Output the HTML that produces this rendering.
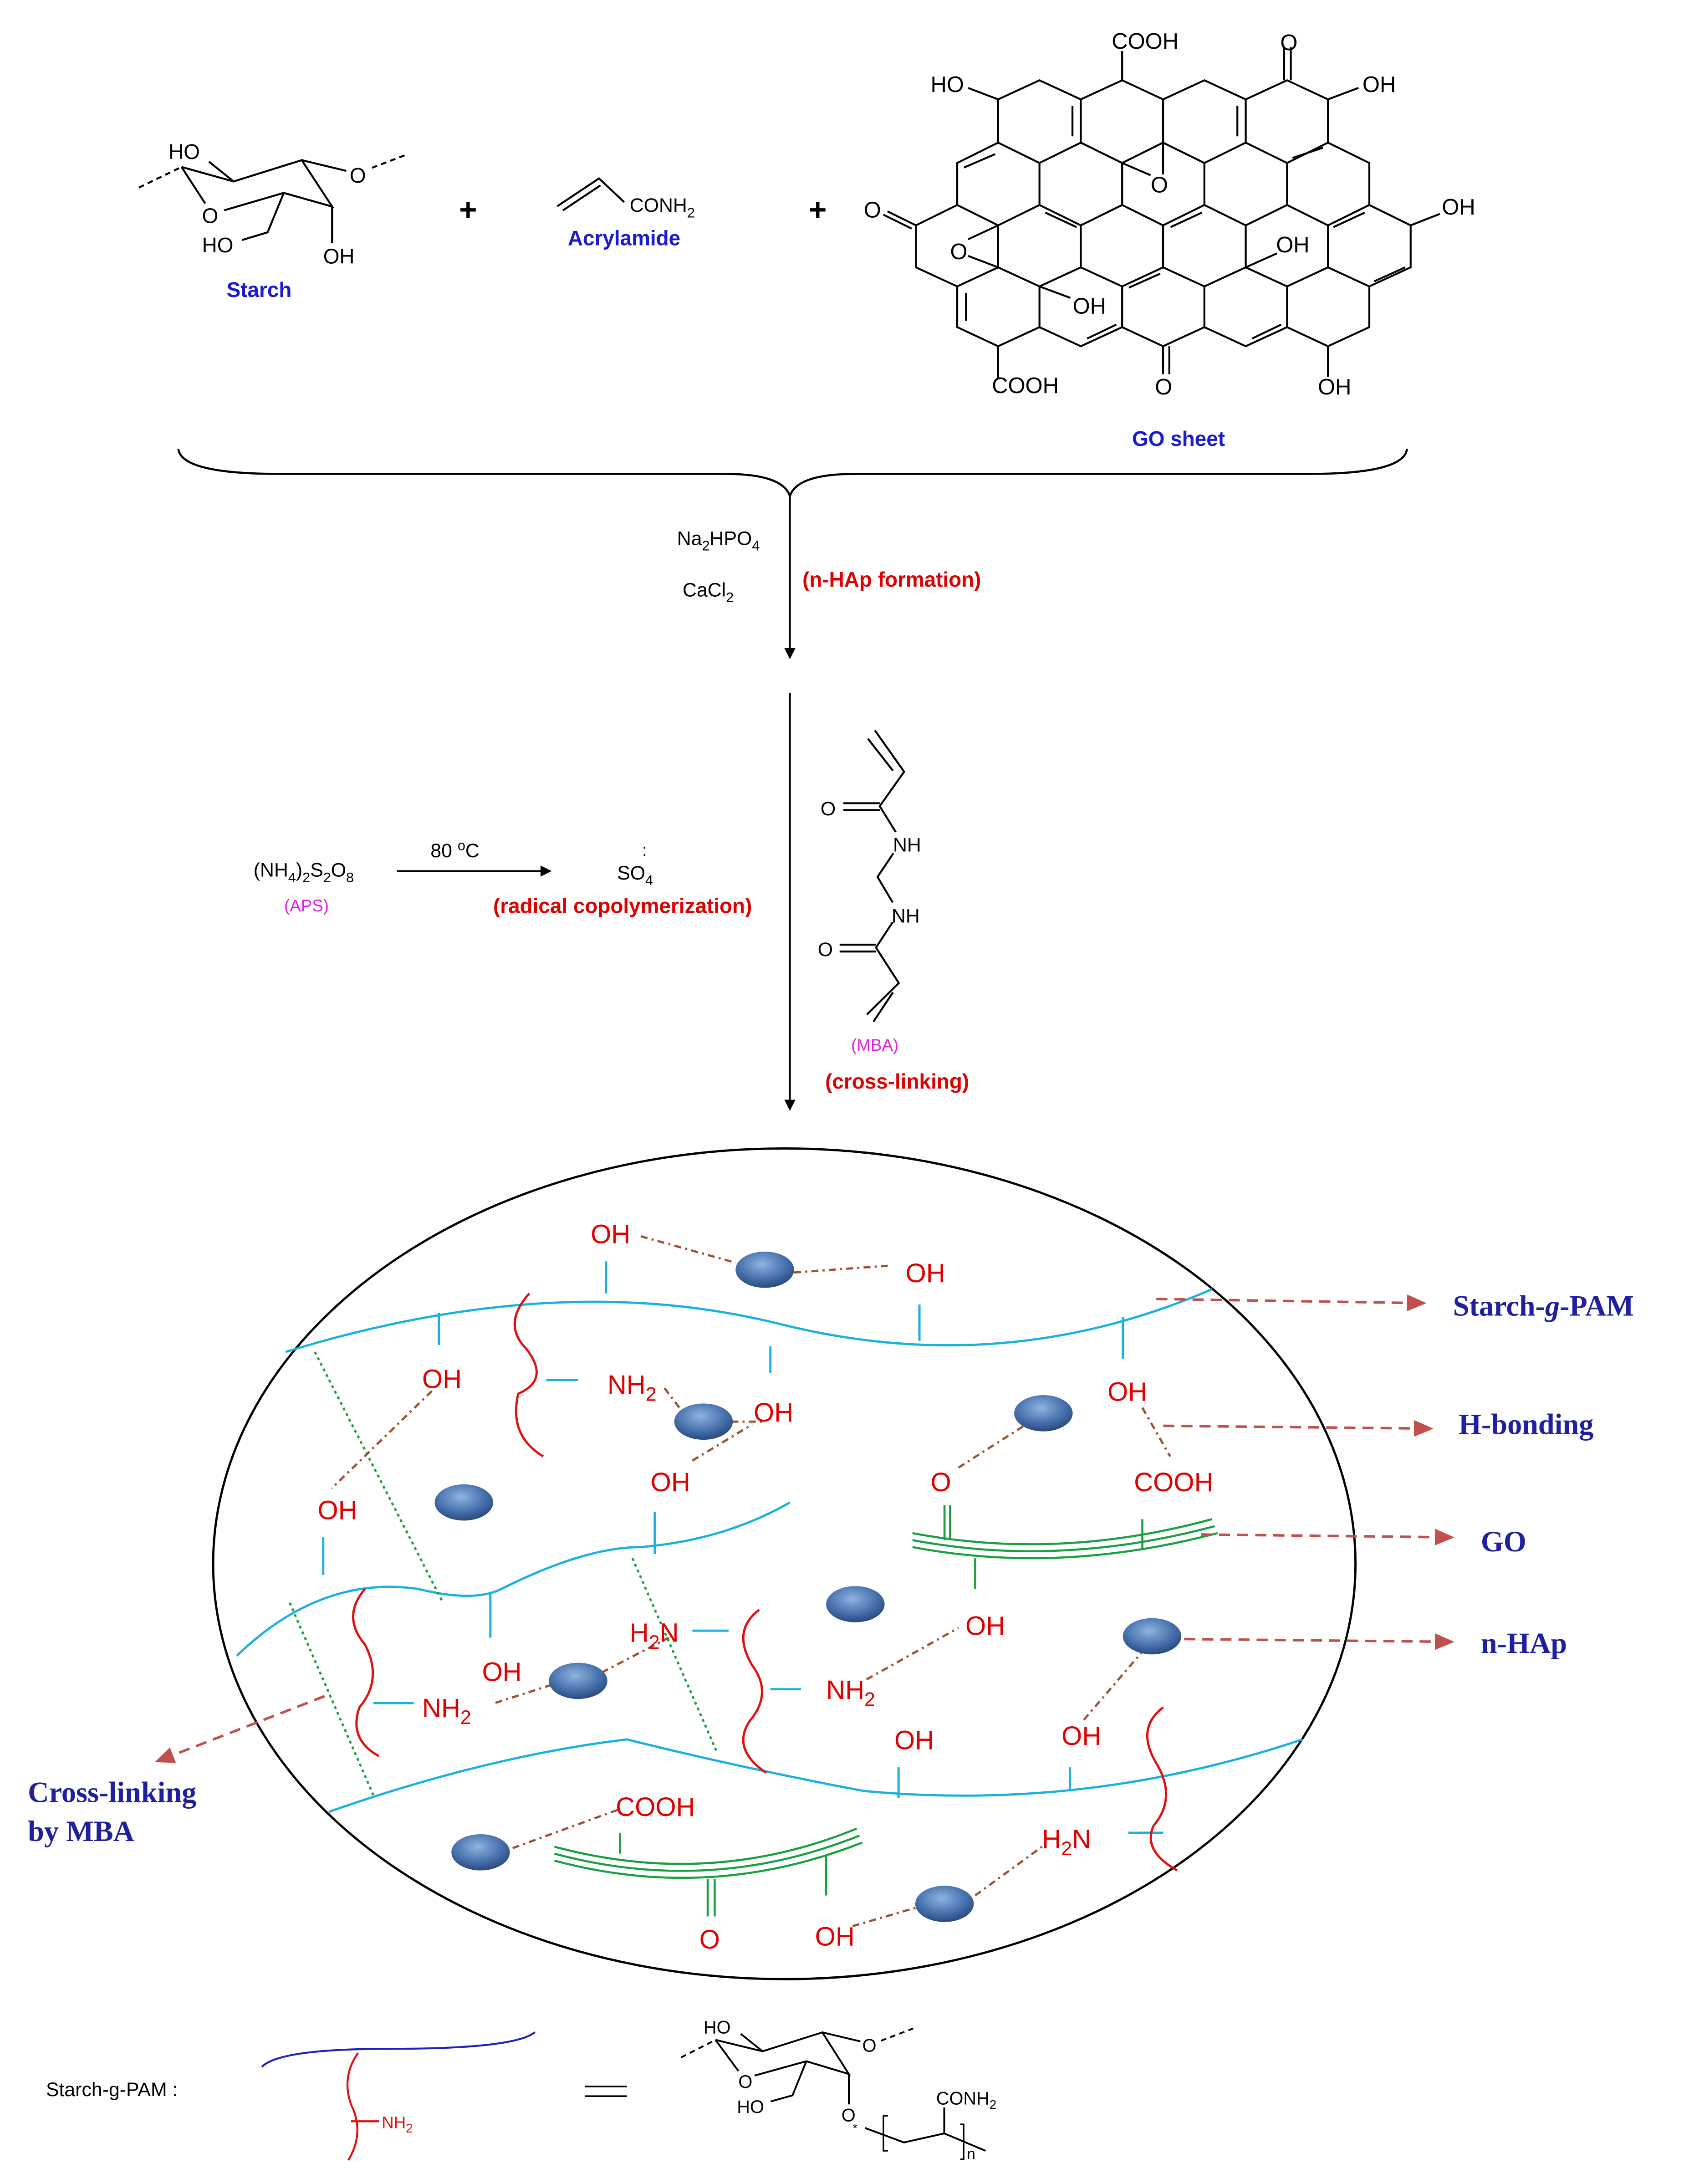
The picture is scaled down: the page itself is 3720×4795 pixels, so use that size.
<!DOCTYPE html>
<html><head><meta charset="utf-8">
<style>
html,body{margin:0;padding:0;background:#fff;}
svg{display:block;}
text{font-family:"Liberation Sans",sans-serif;}
.s{font-family:"Liberation Serif",serif;font-weight:bold;fill:#1f1fa0;font-size:21px;}
.r{fill:#e00000;}
.rb{fill:#e00000;font-weight:bold;font-size:15px;}
.bb{fill:#1a1ad0;font-weight:bold;font-size:15px;}
.mg{fill:#e020e0;font-size:12px;}
</style></head><body>
<svg xmlns="http://www.w3.org/2000/svg" width="3720" height="4795" viewBox="0 0 1216 1567" preserveAspectRatio="none">
<rect width="1216" height="1567" fill="#fff"/>
<defs>
<marker id="ah" markerWidth="8" markerHeight="8" refX="7" refY="4" orient="auto" markerUnits="userSpaceOnUse"><path d="M0,0 L8,4 L0,8 Z" fill="#000"/></marker>
<marker id="rh" markerWidth="14" markerHeight="12" refX="13" refY="6" orient="auto" markerUnits="userSpaceOnUse"><path d="M0,0 L14,6 L0,12 Z" fill="#c0504d"/></marker>
<radialGradient id="bl" cx="45%" cy="35%" r="65%"><stop offset="0" stop-color="#8fb4e0"/><stop offset="0.6" stop-color="#4a74b0"/><stop offset="1" stop-color="#2a4a80"/></radialGradient>
</defs>

<!-- Starch top -->
<g stroke="#000" stroke-width="1.4" fill="none">
<path d="M99.7,134.6 L130.3,119.8" stroke-dasharray="4,3"/>
<path d="M267,120.4 L291.4,111.1" stroke-dasharray="4,3"/>
<path d="M130.3,119.8 L167.7,130.2 L216.6,114.9 L238.4,148.2 L203.7,138.4 L160.9,150.9"/>
<path d="M130.3,119.8 L147.3,146"/>
<path d="M150,116 L167.7,130.2"/>
<path d="M216.6,114.9 L248.6,122.6"/>
<path d="M203.7,138.4 L192.1,166.7 L173.8,172.2"/>
<path d="M238.4,148.2 L238.4,174.3"/>
</g>
<g font-size="15">
<text x="121" y="114">HO</text>
<text x="145" y="160">O</text>
<text x="251" y="131">O</text>
<text x="145" y="181">HO</text>
<text x="232" y="189">OH</text>
</g>
<text x="186" y="213" class="bb" text-anchor="middle">Starch</text>
<text x="336" y="158" font-size="22" font-weight="bold" text-anchor="middle">+</text>
<text x="587" y="158" font-size="22" font-weight="bold" text-anchor="middle">+</text>
<!-- Acrylamide -->
<g stroke="#000" stroke-width="1.4" fill="none"><path d="M400,148 L430,128 L448,145"/><path d="M404,151 L431,133"/></g>
<text x="452" y="152" font-size="14">CONH<tspan font-size="10" dy="4">2</tspan></text>
<text x="448" y="176" class="bb" text-anchor="middle">Acrylamide</text>

<!-- GO sheet -->
<g transform="matrix(0.2997,0,0,0.1826,609.5,11.04)" stroke="#000" fill="none">
<path vector-effect="non-scaling-stroke" stroke-width="4.2" d="
M456,255 L555,330 L555,500 L456,580 L357,500 L357,330 Z
M654,255 L752,330 L752,500 L654,580 L555,500 L555,330 Z
M851,255 L950,330 L950,500 L851,580 L752,500 L752,330 Z
M1049,255 L1147,330 L1147,500 L1049,580 L950,500 L950,330 Z
M357,500 L456,580 L456,745 L357,825 L259,745 L259,580 Z
M555,500 L654,580 L654,745 L555,825 L456,745 L456,580 Z
M752,500 L851,580 L851,745 L752,825 L654,745 L654,580 Z
M950,500 L1049,580 L1049,745 L950,825 L851,745 L851,580 Z
M1147,500 L1246,580 L1246,745 L1147,825 L1049,745 L1049,580 Z
M259,745 L357,825 L357,990 L259,1065 L160,990 L160,825 Z
M456,745 L555,825 L555,990 L456,1065 L357,990 L357,825 Z
M654,745 L752,825 L752,990 L654,1065 L555,990 L555,825 Z
M851,745 L950,825 L950,990 L851,1065 L752,990 L752,825 Z
M1049,745 L1147,825 L1147,990 L1049,1065 L950,990 L950,825 Z
M1246,745 L1345,825 L1345,990 L1246,1065 L1147,990 L1147,825 Z
M357,990 L456,1065 L456,1225 L357,1300 L259,1225 L259,1065 Z
M555,990 L654,1065 L654,1225 L555,1300 L456,1225 L456,1065 Z
M752,990 L851,1065 L851,1225 L752,1300 L654,1225 L654,1065 Z
M950,990 L1049,1065 L1049,1225 L950,1300 L851,1225 L851,1065 Z
M1147,990 L1246,1065 L1246,1225 L1147,1300 L1049,1225 L1049,1065 Z
M535,355 L535,475 M930,355 L930,475 M1062,560 L1135,520 M275,598 L350,545
M470,775 L545,832 M770,832 L845,775 M1160,832 L1235,775 M670,1070 L745,1015
M1258,1045 L1332,990 M280,1090 L280,1200 M570,1270 L640,1215 M965,1270 L1035,1215
M654,255 L654,140 M1042,255 L1042,125 M1058,255 L1058,125 M1147,330 L1220,285 M357,330 L285,285
M160,825 L92,770 M150,838 L82,783 M1345,825 L1415,780
M752,1300 L752,1410 M767,1300 L767,1410 M357,1300 L357,1430 M1147,1300 L1147,1420
M950,990 L1025,935 M456,1065 L530,1110 M752,500 L752,625 M654,580 L722,628 M357,825 L285,880 M357,990 L285,945"/>
</g>
<g font-size="16">
<text x="798" y="35">COOH</text><text x="668" y="66">HO</text><text x="978" y="66">OH</text>
<text x="919" y="36">O</text><text x="620" y="156">O</text><text x="1035" y="154">OH</text>
<text x="682" y="186">O</text><text x="826" y="138">O</text><text x="916" y="181">OH</text><text x="770" y="225">OH</text>
<text x="712" y="282">COOH</text><text x="829" y="283">O</text><text x="946" y="283">OH</text>
</g>
<text x="846" y="320" class="bb" text-anchor="middle">GO sheet</text>

<!-- brace -->
<path d="M128,322 Q130,340 200,340 L520,340 Q562,340 567,356 Q572,340 614,340 L940,340 Q1008,340 1010,322" stroke="#000" stroke-width="1.5" fill="none"/>
<line x1="567" y1="356" x2="567" y2="472" stroke="#000" stroke-width="1.3" marker-end="url(#ah)"/>
<text x="486" y="391" font-size="14">Na<tspan font-size="10" dy="4">2</tspan><tspan dy="-4">HPO</tspan><tspan font-size="10" dy="4">4</tspan></text>
<text x="490" y="428" font-size="14">CaCl<tspan font-size="10" dy="4">2</tspan></text>
<text x="576" y="421" class="rb">(n-HAp formation)</text>
<line x1="567" y1="497" x2="567" y2="796" stroke="#000" stroke-width="1.3" marker-end="url(#ah)"/>

<text x="182" y="629" font-size="14">(NH<tspan font-size="10" dy="4">4</tspan><tspan dy="-4">)</tspan><tspan font-size="10" dy="4">2</tspan><tspan dy="-4">S</tspan><tspan font-size="10" dy="4">2</tspan><tspan dy="-4">O</tspan><tspan font-size="10" dy="4">8</tspan></text>
<text x="220" y="654" class="mg" text-anchor="middle">(APS)</text>
<line x1="285" y1="625" x2="395" y2="625" stroke="#000" stroke-width="1.3" marker-end="url(#ah)"/>
<text x="309" y="615" font-size="14">80 <tspan font-size="10" dy="-5">o</tspan><tspan dy="5">C</tspan></text>
<text x="443" y="631" font-size="14">SO<tspan font-size="10" dy="4">4</tspan></text>
<text x="461" y="614" font-size="12">:</text>
<text x="354" y="655" class="rb">(radical copolymerization)</text>

<!-- MBA -->
<g stroke="#000" stroke-width="1.4" fill="none">
<path d="M628,524 L649,553.7 L631.5,578.4 L643,597"/>
<path d="M623,530 L641,553"/>
<path d="M605.4,576.3 L631.5,576.3 M605.4,581.2 L631.5,581.2"/>
<path d="M641.3,612.2 L629.9,629.2 L640.8,647.5"/>
<path d="M640.8,661.6 L628.8,679.9 L645.2,705.3 L622.3,727.9"/>
<path d="M641,712 L627,733"/>
<path d="M602.7,677.8 L628.8,677.8 M602.7,682.7 L628.8,682.7"/>
</g>
<text x="589" y="585" font-size="14">O</text><text x="641" y="611" font-size="14">NH</text>
<text x="640" y="662" font-size="14">NH</text><text x="587" y="686" font-size="14">O</text>
<text x="628" y="754" class="mg" text-anchor="middle">(MBA)</text>
<text x="644" y="781" class="rb" text-anchor="middle">(cross-linking)</text>

<!-- Ellipse -->
<ellipse cx="563" cy="1122" rx="410" ry="298" stroke="#000" stroke-width="1.6" fill="none"/>
<g stroke="#1ab0e0" stroke-width="1.6" fill="none">
<path d="M205,970 Q400,910 560,950 T870,925"/>
<path d="M170,1188 Q230,1130 300,1140 Q340,1150 360,1140 Q420,1110 460,1110 Q520,1105 567,1078"/>
<path d="M236,1300 Q350,1260 450,1248 Q530,1268 620,1285 Q780,1300 935,1248"/>
<path d="M315,942 L315,965 M435,905 L435,928 M553,966 L553,985 M660,936 L660,962 M806,945 L806,975 M392,990 L415,990 M232,1103 L232,1130 M352,1143 L352,1175 M470,1085 L470,1115 M523,1170 L497,1170 M553,1212 L575,1212 M268,1222 L297,1222 M645,1268 L645,1290 M768,1268 L768,1285 M810,1315 L835,1315"/>
</g>
<g stroke="#e01010" stroke-width="1.6" fill="none">
<path d="M380,928 Q360,950 378,968 Q395,990 372,1000 Q365,1030 390,1045"/>
<path d="M262,1140 Q245,1160 262,1180 Q275,1205 258,1225 Q250,1248 272,1260"/>
<path d="M545,1155 Q525,1170 540,1195 Q555,1215 538,1235 Q525,1255 550,1272"/>
<path d="M835,1225 Q815,1240 830,1265 Q845,1290 828,1310 Q820,1328 845,1342"/>
</g>
<g stroke="#1aa040" stroke-width="1.5" fill="none">
<path d="M655,1100 Q760,1120 870,1090 M655,1105 Q760,1125 872,1095 M655,1110 Q760,1130 874,1100"/>
<path d="M678,1080 L678,1105 M682,1080 L682,1105 M700,1118 L700,1140 M820,1090 L820,1112"/>
<path d="M398,1325 Q510,1355 615,1312 M398,1330 Q510,1360 617,1317 M398,1335 Q510,1365 619,1322"/>
<path d="M445,1315 L445,1330 M508,1348 L508,1375 M513,1348 L513,1375 M593,1332 L593,1360"/>
</g>
<g stroke="#1aa040" stroke-width="1.6" fill="none" stroke-dasharray="2,2.5">
<path d="M226,970 L318,1150 M454,1118 L515,1258 M208,1150 L268,1288"/>
</g>
<g stroke="#a0522d" stroke-width="1.6" fill="none" stroke-dasharray="5,3,1.5,3">
<path d="M460,887 L528,906 M570,913 L640,908 M310,998 L238,1068 M477,996 L490,1013 M525,1020 L550,1020 M497,1048 L540,1022 M688,1053 L735,1023 M820,1010 L840,1045 M408,1205 L355,1222 M432,1200 L480,1175 M622,1205 L688,1168 M778,1234 L820,1185 M368,1326 L445,1298 M612,1382 L660,1368 M700,1360 L748,1325"/>
</g>
<g fill="url(#bl)">
<ellipse cx="549" cy="911" rx="21" ry="13"/><ellipse cx="505" cy="1020" rx="21" ry="13"/>
<ellipse cx="749" cy="1014" rx="21" ry="13"/><ellipse cx="333" cy="1078" rx="21" ry="13"/>
<ellipse cx="614" cy="1151" rx="21" ry="13"/><ellipse cx="827" cy="1174" rx="21" ry="13"/>
<ellipse cx="415" cy="1206" rx="21" ry="13"/><ellipse cx="345" cy="1329" rx="21" ry="13"/>
<ellipse cx="678" cy="1366" rx="21" ry="13"/>
</g>
<g class="r" font-size="19">
<text x="424" y="892">OH</text><text x="650" y="920">OH</text><text x="303" y="996">OH</text>
<text x="436" y="1000">NH<tspan font-size="14" dy="5">2</tspan></text><text x="541" y="1020">OH</text>
<text x="795" y="1005">OH</text><text x="228" y="1090">OH</text><text x="467" y="1070">OH</text>
<text x="668" y="1070">O</text><text x="814" y="1070">COOH</text>
<text x="452" y="1178">H<tspan font-size="14" dy="5">2</tspan><tspan dy="-5">N</tspan></text>
<text x="693" y="1173">OH</text><text x="346" y="1206">OH</text>
<text x="303" y="1232">NH<tspan font-size="14" dy="5">2</tspan></text>
<text x="593" y="1219">NH<tspan font-size="14" dy="5">2</tspan></text>
<text x="642" y="1255">OH</text><text x="762" y="1252">OH</text><text x="442" y="1303">COOH</text>
<text x="748" y="1326">H<tspan font-size="14" dy="5">2</tspan><tspan dy="-5">N</tspan></text>
<text x="502" y="1398">O</text><text x="585" y="1396">OH</text>
</g>
<g stroke="#c0504d" stroke-width="1.8" stroke-dasharray="8,5" fill="none">
<line x1="830" y1="932" x2="1023" y2="935" marker-end="url(#rh)"/>
<line x1="835" y1="1023" x2="1028" y2="1025" marker-end="url(#rh)"/>
<line x1="862" y1="1101" x2="1043" y2="1103" marker-end="url(#rh)"/>
<line x1="850" y1="1176" x2="1043" y2="1178" marker-end="url(#rh)"/>
<line x1="233" y1="1217" x2="112" y2="1264" marker-end="url(#rh)"/>
</g>
<text x="1043" y="944" class="s">Starch-<tspan font-style="italic">g</tspan>-PAM</text>
<text x="1047" y="1029" class="s">H-bonding</text>
<text x="1063" y="1113" class="s">GO</text>
<text x="1063" y="1186" class="s">n-HAp</text>
<text x="20" y="1293" class="s">Cross-linking</text>
<text x="20" y="1321" class="s">by MBA</text>

<!-- bottom legend -->
<text x="33" y="1504" font-size="14">Starch-g-PAM :</text>
<path d="M188,1483 Q200,1470 280,1470 Q370,1470 384,1458" stroke="#2020c0" stroke-width="1.4" fill="none"/>
<path d="M257,1473 Q245,1490 252,1510 Q262,1530 250,1550 M252,1522 L272,1522" stroke="#e01010" stroke-width="1.4" fill="none"/>
<text x="274" y="1527" font-size="12" fill="#e01010">NH<tspan font-size="9" dy="3">2</tspan></text>
<path d="M420,1497 L450,1497 M420,1504 L450,1504" stroke="#000" stroke-width="1.2"/>
<g stroke="#000" stroke-width="1.3" fill="none">
<path d="M488.9,1476.2 L513.6,1463.6" stroke-dasharray="4,3"/>
<path d="M632.4,1464.2 L655.5,1455.4" stroke-dasharray="4,3"/>
<path d="M513.6,1463.6 L547.4,1471.8 L590.3,1458.2 L609.3,1488.1 L578.8,1478.9 L541.7,1489.2"/>
<path d="M513.6,1463.6 L530.1,1486 M531.8,1459.3 L547.4,1471.8 M590.3,1458.2 L617.6,1464.7"/>
<path d="M578.8,1478.9 L568.9,1503.4 L553.2,1507.8 M609.3,1488.1 L609.3,1509.9"/>
<path d="M620.9,1526.8 L648.9,1537.2 L677.8,1530.7 L707.5,1543.2 M677.8,1530.7 L677.8,1512.1"/>
<path d="M637.4,1518.1 L634.1,1518.1 L634.1,1543.2 L637.4,1543.2 M689.3,1524.1 L691.8,1524.1 L691.8,1549.2 L689.3,1549.2" stroke-width="1"/>
</g>
<g font-size="13"><text x="505" y="1459">HO</text><text x="530" y="1498">O</text><text x="619" y="1472">O</text>
<text x="529" y="1516">HO</text><text x="604" y="1522">O</text><text x="612" y="1530" font-size="9">*</text>
<text x="672" y="1510">CONH<tspan font-size="9" dy="3">2</tspan></text><text x="694" y="1549" font-size="11">n</text></g>
</svg>
</body></html>
